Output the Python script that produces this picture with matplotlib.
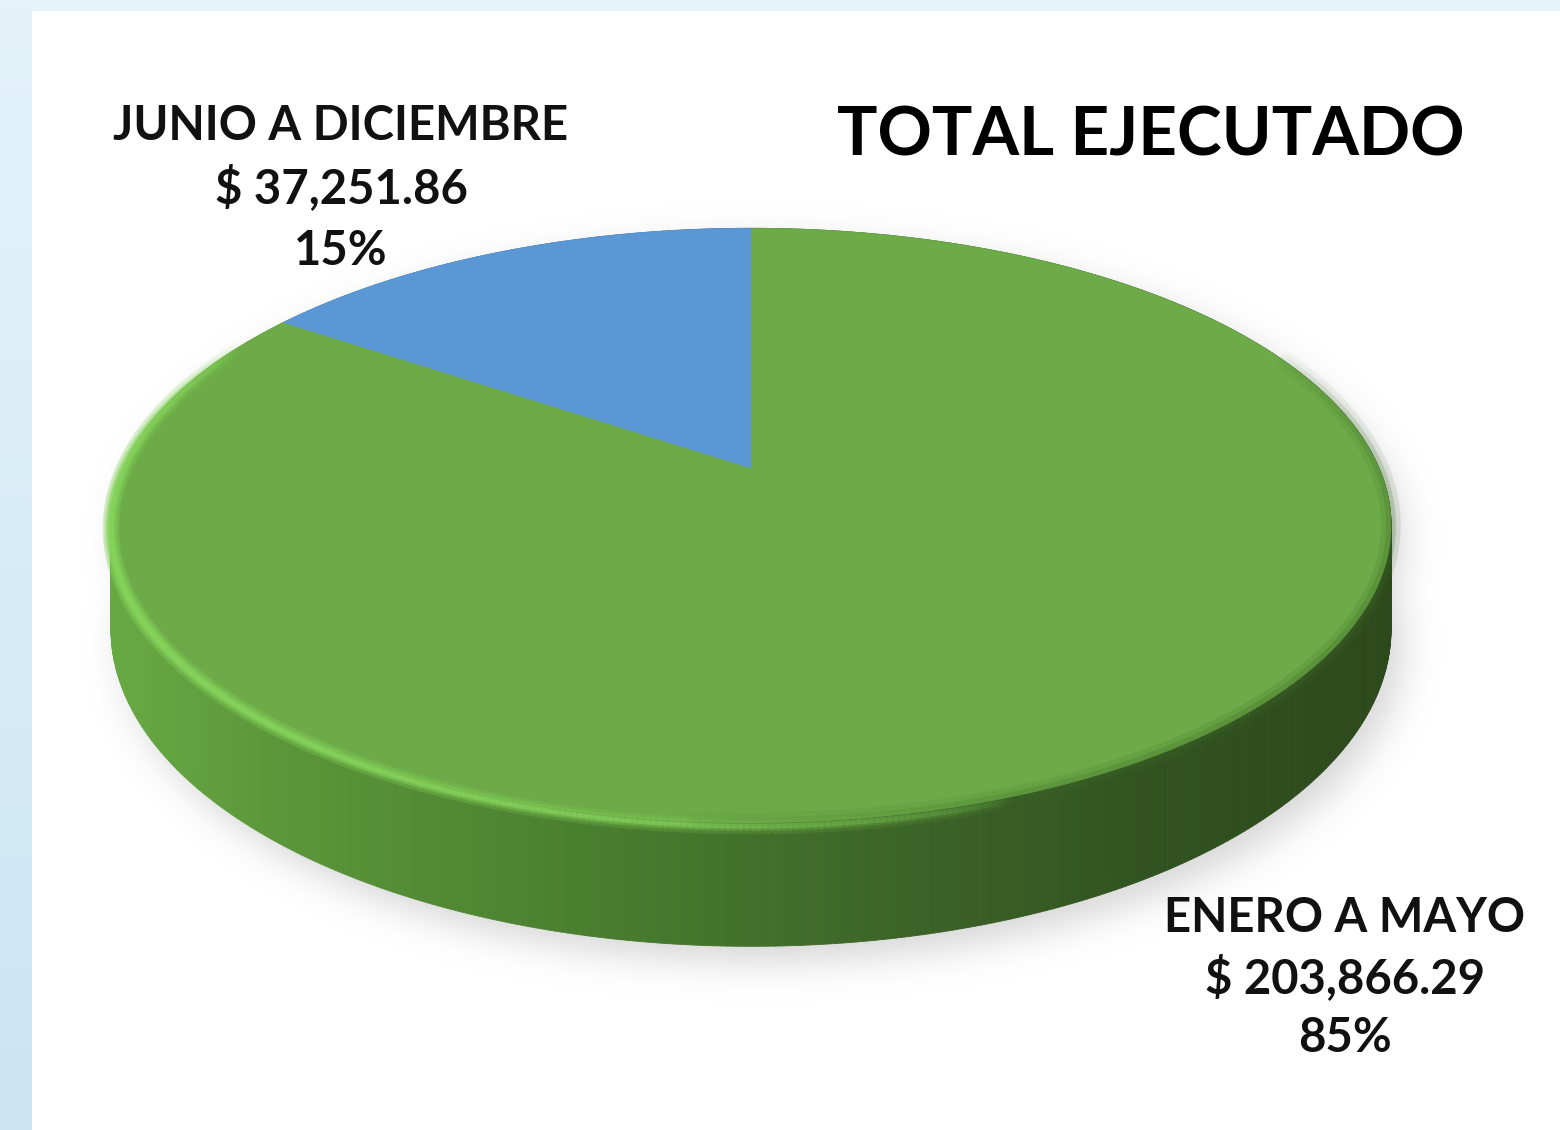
import numpy as np
import matplotlib
matplotlib.use("Agg")
import matplotlib.pyplot as plt
from matplotlib.patches import Polygon, Rectangle
from matplotlib.path import Path
from matplotlib.collections import PolyCollection, LineCollection
from matplotlib.colors import LinearSegmentedColormap, to_rgb

# ---------------- data ----------------
categories = ["ENERO A MAYO", "JUNIO A DICIEMBRE"]
amounts = [203866.29, 37251.86]
amount_labels = ["$ 203,866.29", "$ 37,251.86"]
percent_labels = ["85%", "15%"]
slice_colors = ["#6cab47", "#5b97d4"]
title = "TOTAL EJECUTADO"

FONT = ["Lato", "DejaVu Sans"]

W, H = 1560, 1130
fig = plt.figure(figsize=(15.6, 11.3), dpi=100)
fig.patch.set_facecolor("white")
ax = fig.add_axes([0, 0, 1, 1])

# ---------------- background frame ----------------
grad = np.linspace(0, 1, 256)[:, None]
cmap_bg = LinearSegmentedColormap.from_list("bg", ["#e4f3fa", "#cbe5f4"])
ax.imshow(grad, extent=[0, 32, H, 0], cmap=cmap_bg, aspect="auto", zorder=0)
ax.add_patch(Rectangle((0, 0), W, 11, color="#e4f3fa", zorder=0, lw=0))

# ---------------- perspective pie geometry ----------------
cx, cy = 751, 468
A, B, K, D0 = 628, 286, 0.193, 100


def proj(theta, depth=0.0):
    u = np.cos(theta)
    v = np.sin(theta)
    s = 1 + K * v
    return cx + A * u / s, cy + (-B * v + D0 * depth) / s


total = float(np.sum(amounts))
fracs = np.array(amounts) / total
start = np.pi / 2
bounds = [start]
for f in fracs:
    bounds.append(bounds[-1] - f * 2 * np.pi)  # clockwise

# ---------------- shadow ----------------
step = 3
gx = np.arange(0, W, step) + step / 2
gy = np.arange(0, H, step) + step / 2
XX, YY = np.meshgrid(gx, gy)
pts = np.column_stack([XX.ravel(), YY.ravel()])
th = np.linspace(0, 2 * np.pi, 500)
off_x, off_y = 12, 16
tx, ty = proj(th, 0.0)
bx, by = proj(th, 1.0)
m1 = Path(np.column_stack([tx + off_x, ty + off_y])).contains_points(pts)
m2 = Path(np.column_stack([bx + off_x, by + off_y])).contains_points(pts)
mask = (m1 | m2).reshape(XX.shape).astype(float)
sig = 6.0
kx = np.arange(-20, 21)
kern = np.exp(-kx ** 2 / (2 * sig ** 2))
kern /= kern.sum()
mask = np.apply_along_axis(lambda r: np.convolve(r, kern, mode="same"), 1, mask)
mask = np.apply_along_axis(lambda r: np.convolve(r, kern, mode="same"), 0, mask)
shadow = np.zeros(mask.shape + (4,))
shadow[..., 0:3] = 0.55
shadow[..., 3] = mask * 0.35
ax.imshow(shadow, extent=[0, W, H, 0], aspect="auto", zorder=1, interpolation="bilinear")

# ---------------- side wall ----------------
side_cmap = LinearSegmentedColormap.from_list(
    "side", [(0.0, "#66a842"), (0.12, "#5b973a"), (0.4, "#487b2e"),
             (0.6, "#3d6628"), (0.8, "#325421"), (1.0, "#2c491c")])
blue_side = LinearSegmentedColormap.from_list("bside", ["#4a80b8", "#2f5680"])
polys, cols, keys = [], [], []
for i in range(len(amounts)):
    a0, a1 = bounds[i], bounds[i + 1]
    n = max(int(abs(a0 - a1) / (2 * np.pi) * 720), 4)
    ts = np.linspace(a0, a1, n + 1)
    for j in range(n):
        t0, t1 = ts[j], ts[j + 1]
        x0, y0 = proj(t0, 0)
        x1, y1 = proj(t1, 0)
        x2, y2 = proj(t1, 1)
        x3, y3 = proj(t0, 1)
        polys.append([(x0, y0), (x1, y1), (x2, y2), (x3, y3)])
        tn = ((x0 + x1) / 2 - (cx - A)) / (2 * A)
        cm = side_cmap if i == 0 else blue_side
        cols.append(cm(np.clip(tn, 0, 1)))
        keys.append(np.sin((t0 + t1) / 2))
order = np.argsort(-np.array(keys))
pc = PolyCollection([polys[k] for k in order], facecolors=[cols[k] for k in order],
                    edgecolors=[cols[k] for k in order], linewidths=0.6, zorder=2)
ax.add_collection(pc)

# ---------------- top face ----------------
for i in range(len(amounts)):
    a0, a1 = bounds[i], bounds[i + 1]
    ts = np.linspace(a0, a1, 600)
    xs, ys = proj(ts, 0)
    verts = [(cx, cy)] + list(zip(xs, ys))
    ax.add_patch(Polygon(verts, closed=True, facecolor=slice_colors[i],
                         edgecolor=slice_colors[i], lw=0.5, zorder=3))

# rim highlight on front-left (bevel)
ts = np.linspace(np.deg2rad(152), np.deg2rad(290), 300)
xs, ys = proj(ts, 0.03)
segs = [[(xs[k], ys[k]), (xs[k + 1], ys[k + 1])] for k in range(len(xs) - 1)]
tt = np.linspace(0, 1, len(segs))
alpha = np.clip(np.sin(np.pi * tt) ** 0.6, 0, 1) * 0.85
hl = np.array(to_rgb("#86d35c"))
for lw, am in [(12, 0.15), (7, 0.3), (3.5, 0.7)]:
    colors = [(hl[0], hl[1], hl[2], a * am) for a in alpha]
    ax.add_collection(LineCollection(segs, colors=colors, linewidths=lw,
                                     capstyle="round", zorder=4))

# soft dark rim on the right side
ts = np.linspace(np.deg2rad(-95), np.deg2rad(25), 300)
xs, ys = proj(ts, 0.0)
segs = [[(xs[k], ys[k]), (xs[k + 1], ys[k + 1])] for k in range(len(xs) - 1)]
tt = np.linspace(0, 1, len(segs))
alpha = np.clip(np.sin(np.pi * tt) ** 0.5, 0, 1)
dk = np.array(to_rgb("#3d6a28"))
for lw, am in [(14, 0.15), (7, 0.25)]:
    colors = [(dk[0], dk[1], dk[2], a * am) for a in alpha]
    ax.add_collection(LineCollection(segs, colors=colors, linewidths=lw, zorder=4))

# ---------------- texts ----------------
ax.text(1151, 155, title, fontsize=48.5, fontweight="bold", family=FONT,
        ha="center", va="baseline", color="black", zorder=6)

label_pos = {0: (1345, [932, 993, 1052]), 1: (341, [140, 203, 265])}
for i in range(len(amounts)):
    x, ys_ = label_pos[i]
    for txt, yb in zip([categories[i], amount_labels[i], percent_labels[i]], ys_):
        ax.text(x, yb, txt, fontsize=34, fontweight="bold", family=FONT,
                ha="center", va="baseline", color="#111111", zorder=6)

ax.set_xlim(0, W)
ax.set_ylim(H, 0)
ax.axis("off")
fig.savefig("out.png", dpi=100, facecolor="white")
